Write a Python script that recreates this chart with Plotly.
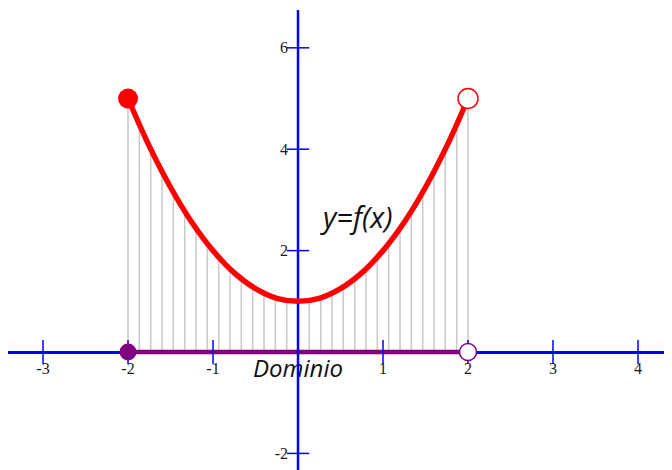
import plotly.graph_objects as go

# curve y = f(x)
curve_x = [-2.0, -1.75, -1.5, -1.25, -1.0, -0.75, -0.5, -0.25, 0.0,
           0.25, 0.5, 0.75, 1.0, 1.25, 1.5, 1.75, 2.0]
curve_y = [5.0, 4.06, 3.25, 2.56, 2.0, 1.56, 1.25, 1.06, 1.0,
           1.06, 1.25, 1.56, 2.0, 2.56, 3.25, 4.06, 5.0]

# thin gray verticals under the curve
stick_x = [-2.0, -1.867, -1.733, -1.6, -1.467, -1.333, -1.2, -1.067, -0.933, -0.8,
           -0.667, -0.533, -0.4, -0.267, -0.133, 0.0, 0.133, 0.267, 0.4, 0.533,
           0.667, 0.8, 0.933, 1.067, 1.2, 1.333, 1.467, 1.6, 1.733, 1.867, 2.0]
stick_y = [5.0, 4.48, 4.0, 3.56, 3.15, 2.78, 2.44, 2.14, 1.87, 1.64,
           1.44, 1.28, 1.16, 1.07, 1.02, 1.0, 1.02, 1.07, 1.16, 1.28,
           1.44, 1.64, 1.87, 2.14, 2.44, 2.78, 3.15, 3.56, 4.0, 4.48, 5.0]

domain_x = [-2, 2]
x_ticks = [-3, -2, -1, 1, 2, 3, 4]
x_labels = ["-3", "-2", "-1", "1", "2", "3", "4"]
y_ticks = [-2, 2, 4, 6]
y_labels = ["-2", "2", "4", "6"]

x_range = [-3.412, 4.4]
y_range = [-2.327, 6.746]

BLUE = "#0000ff"
PURPLE = "#800080"
RED = "#ff0000"

fig = go.Figure()

sx, sy = [], []
for x, y in zip(stick_x, stick_y):
    sx += [x, x, None]
    sy += [0, y, None]
fig.add_trace(go.Scatter(x=sx, y=sy, mode="lines",
                         line=dict(color="#c8c8c8", width=1.5), hoverinfo="skip"))

# domain segment
fig.add_trace(go.Scatter(x=domain_x, y=[0, 0], mode="lines",
                         line=dict(color=PURPLE, width=4.5)))

fig.add_trace(go.Scatter(x=[0], y=[-0.38], mode="text", text=["Dominio"],
                         textfont=dict(family="Open Sans", size=24, color="#111111",
                                       style="italic")))

# vertical axis line drawn over the domain
fig.add_trace(go.Scatter(x=[0, 0], y=[y_range[0], y_range[1]], mode="lines",
                         line=dict(color=BLUE, width=2.5)))

# tick marks crossing the axes
fig.add_trace(go.Scatter(x=x_ticks, y=[0] * len(x_ticks), mode="markers",
                         marker=dict(symbol="line-ns", size=17,
                                     line=dict(color=BLUE, width=1.5))))
fig.add_trace(go.Scatter(x=[0] * len(y_ticks), y=y_ticks, mode="markers",
                         marker=dict(symbol="line-ew", size=16,
                                     line=dict(color=BLUE, width=1.5))))

fig.add_trace(go.Scatter(x=curve_x, y=curve_y, mode="lines",
                         line=dict(color=RED, width=5.5, shape="spline")))

fig.add_trace(go.Scatter(x=[domain_x[0]], y=[curve_y[0]], mode="markers",
                         marker=dict(size=20, color=RED)))
fig.add_trace(go.Scatter(x=[domain_x[1]], y=[curve_y[-1]], mode="markers",
                         marker=dict(size=20, color="white",
                                     line=dict(color=RED, width=1.5))))
fig.add_trace(go.Scatter(x=[domain_x[0]], y=[0], mode="markers",
                         marker=dict(size=17, color=PURPLE)))
fig.add_trace(go.Scatter(x=[domain_x[1]], y=[0], mode="markers",
                         marker=dict(size=17, color="white",
                                     line=dict(color=PURPLE, width=1.5))))

fig.add_annotation(x=0.68, y=2.68, text="y=f(x)", showarrow=False,
                   font=dict(family="Open Sans", size=29, color="#111111", style="italic"))

tick_font = dict(family="Liberation Serif", size=16, color="#1a1a1a")
fig.update_layout(
    width=664, height=462,
    margin=dict(l=0, r=0, t=2, b=0),
    plot_bgcolor="white", paper_bgcolor="white",
    showlegend=False,
    xaxis=dict(range=x_range, tickvals=x_ticks, ticktext=x_labels,
               showgrid=False, zeroline=False, showline=False, ticks="",
               anchor="free", position=(0 - y_range[0]) / (y_range[1] - y_range[0]),
               ticklabelstandoff=5, tickfont=tick_font, fixedrange=True),
    yaxis=dict(range=y_range, tickvals=y_ticks, ticktext=y_labels,
               showgrid=False, zeroline=True, zerolinecolor=BLUE, zerolinewidth=2.5,
               showline=False, ticks="", anchor="free",
               position=(0 - x_range[0]) / (x_range[1] - x_range[0]),
               ticklabelstandoff=10, tickfont=tick_font, fixedrange=True),
)

fig.write_html("out.html")
